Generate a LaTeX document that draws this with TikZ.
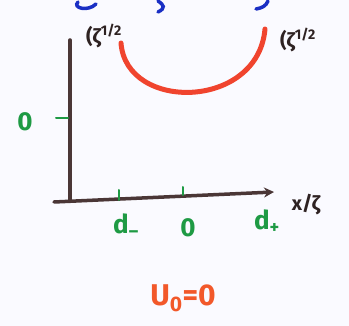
\documentclass[tikz,border=0pt]{standalone}
\usepackage{fontspec}
\setmainfont{Fira Sans}
\usetikzlibrary{arrows.meta}
\definecolor{axisc}{HTML}{4A3636}
\definecolor{greenc}{HTML}{1E9A44}
\definecolor{redc}{HTML}{F0442E}
\definecolor{orangec}{HTML}{F2582A}
\definecolor{bluec}{HTML}{1A2FC4}
\definecolor{inkc}{HTML}{2E2222}
\tikzset{
  axisline/.style={draw=axisc, line width=3.5pt, line cap=round},
  ticklab/.style={text=greenc, font=\fontsize{26}{28}\selectfont\bfseries, inner sep=0pt},
  tickmark/.style={draw=greenc, line width=2pt, line cap=round},
  inklab/.style={text=inkc, font=\fontsize{20}{22}\selectfont\bfseries, inner sep=0pt},
  curve/.style={draw=redc, line width=5pt, line cap=round},
  bluestroke/.style={draw=bluec, line width=3.5pt, line cap=round}
}
\begin{document}
\begin{tikzpicture}[x=1pt,y=-1pt]
\useasboundingbox (0,0) rectangle (349,326);
\fill[white!98!blue] (0,0) rectangle (349,326);
% cut-off blue writing at top
\draw[bluestroke] (78,2) .. controls (72,8) and (88,12) .. (96,4);
\draw[bluestroke] (158,1) .. controls (164,5) and (166,8) .. (158,12);
\draw[bluestroke] (268,1) .. controls (266,6) and (262,8) .. (256,9);
% axes
\coordinate (top) at (70,40);
\coordinate (origin) at (70,200);
\coordinate (left) at (54,202);
\coordinate (right) at (274,192);
\draw[axisline] (top) -- (origin);
\draw[axisline, -{Stealth[length=10pt,width=10pt]}] (left) -- (right);
% vertical tick and label
\coordinate (vt1) at (56,118);
\coordinate (vt2) at (68,118);
\draw[tickmark] (vt1) -- (vt2);
\node[ticklab] (yzero) at (25,122) {0};
% horizontal ticks
\coordinate (t1a) at (119,190);
\coordinate (t1b) at (119,200);
\coordinate (t2a) at (183,187);
\coordinate (t2b) at (183,195);
\draw[tickmark] (t1a) -- (t1b);
\draw[tickmark] (t2a) -- (t2b);
\node[ticklab] (dminus) at (126,226) {d\textsubscript{–}};
\node[ticklab] (xzero) at (188,228) {0};
\node[ticklab] (dplus) at (267,222) {d\textsubscript{+}};
\node[inklab] (xlab) at (306,205) {x/ζ};
% red curve
\coordinate (cl) at (121,43);
\coordinate (cr) at (265,29);
\draw[curve] (cl) .. controls (126,112) and (258,110) .. (cr);
\node[inklab] (lab1) at (104,36) {(ζ\textsuperscript{1/2}};
\node[inklab] (lab2) at (298,40) {(ζ\textsuperscript{1/2}};
% bottom label
\node[text=orangec, font=\fontsize{30}{32}\selectfont\bfseries, inner sep=0pt] (u0) at (183,298) {U\textsubscript{0}=0};
\end{tikzpicture}
\end{document}
